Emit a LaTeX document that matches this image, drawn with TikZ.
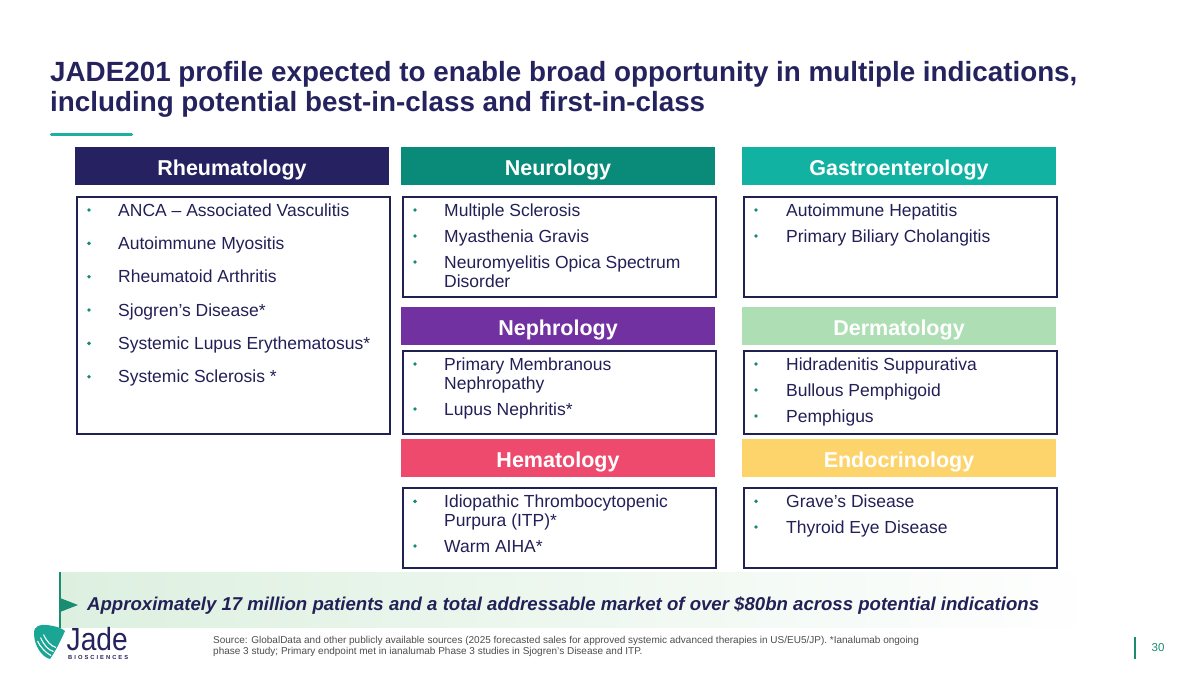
\documentclass[tikz,border=0pt]{standalone}
\usepackage{fontspec}
\setmainfont{Liberation Sans}
\definecolor{navy}{HTML}{25235E}
\definecolor{boxline}{HTML}{1E2152}
\definecolor{txt}{HTML}{222057}
\definecolor{tealline}{HTML}{1BB0A0}
\definecolor{bulc}{HTML}{168A78}
\definecolor{cRheum}{HTML}{262262}
\definecolor{cNeuro}{HTML}{0A8A79}
\definecolor{cGastro}{HTML}{12B2A3}
\definecolor{cNeph}{HTML}{7131A1}
\definecolor{cDerm}{HTML}{AEDFB4}
\definecolor{cHema}{HTML}{EE4A6E}
\definecolor{cEndo}{HTML}{FDD46C}
\definecolor{bannerg}{HTML}{DDF0E0}
\definecolor{foot}{HTML}{4D4D4D}
\definecolor{pgteal}{HTML}{1A8C72}
\definecolor{icon}{HTML}{1AA594}
\tikzset{
  hdrtext/.style={font=\fontsize{21.5}{24}\selectfont\bfseries, text=white, anchor=base, inner sep=0pt},
  cbox/.style={draw=boxline, line width=2pt, anchor=north west, inner sep=0pt},
  hbox/.style={anchor=north west, inner sep=0pt, minimum width=314pt, minimum height=38pt},
  itm/.style={anchor=base west, font=\fontsize{17.5}{19.5}\selectfont, text=txt, inner sep=0pt},
  bulstyle/.style={circle, fill=bulc, inner sep=0pt, minimum size=3.9pt},
}
\newcommand{\hdrbox}[5]{% name, x, y, color, text
  \node[hbox, fill=#4] (#1) at (#2,#3) {};
  \node[hdrtext] (#1-t) at (#2+157,#3+28.5) {#5};}
\newcommand{\bitem}[5]{% name, bx, tx, y, text
  \node[bulstyle] (#1-b) at (#2,#4-6) {};
  \node[itm] (#1) at (#3,#4) {#5};}
\newcommand{\citem}[4]{% name, tx, y, text (continuation line)
  \node[itm] (#1) at (#2,#3) {#4};}
\begin{document}
\begin{tikzpicture}[x=1pt,y=-1pt]
\useasboundingbox (0,0) rectangle (1200,675);
\fill[white] (0,0) rectangle (1200,675);

% title
\node[anchor=base west, inner sep=0pt, font=\fontsize{27.8}{30}\selectfont\bfseries, text=navy] (t1) at (50,81.7) {JADE201 profile expected to enable broad opportunity in multiple indications,};
\node[anchor=base west, inner sep=0pt, font=\fontsize{27.8}{30}\selectfont\bfseries, text=navy] (t2) at (50,111) {including potential best-in-class and first-in-class};
\draw[tealline, line width=3.5pt, line cap=round] (51.5,134.3) -- (131.5,134.3);

% headers
\hdrbox{rh}{75}{147}{cRheum}{Rheumatology}
\hdrbox{ne}{401}{147}{cNeuro}{Neurology}
\hdrbox{ga}{742}{147}{cGastro}{Gastroenterology}
\hdrbox{np}{401}{306.5}{cNeph}{Nephrology}
\hdrbox{de}{742}{306.5}{cDerm}{Dermatology}
\hdrbox{he}{401}{439}{cHema}{Hematology}
\hdrbox{en}{742}{439}{cEndo}{Endocrinology}

% content boxes
\node[cbox, minimum width=313pt, minimum height=237pt] (rhc) at (75.5,196) {};
\node[cbox, minimum width=313pt, minimum height=99.5pt] (nec) at (401.5,196) {};
\node[cbox, minimum width=313pt, minimum height=99.5pt] (gac) at (742.5,196) {};
\node[cbox, minimum width=313pt, minimum height=82.5pt] (npc) at (401.5,350) {};
\node[cbox, minimum width=313pt, minimum height=82.5pt] (dec) at (742.5,350) {};
\node[cbox, minimum width=313pt, minimum height=80pt] (hec) at (401.5,487.3) {};
\node[cbox, minimum width=313pt, minimum height=80pt] (enc) at (742.5,487.3) {};

% Rheumatology items
\bitem{r1}{89}{118}{216}{ANCA – Associated Vasculitis}
\bitem{r2}{89}{118}{249.3}{Autoimmune Myositis}
\bitem{r3}{89}{118}{282.7}{Rheumatoid Arthritis}
\bitem{r4}{89}{118}{316}{Sjogren’s Disease*}
\bitem{r5}{89}{118}{349.3}{Systemic Lupus Erythematosus*}
\bitem{r6}{89}{118}{382.7}{Systemic Sclerosis *}

% Neurology items
\bitem{n1}{415}{444}{216}{Multiple Sclerosis}
\bitem{n2}{415}{444}{242}{Myasthenia Gravis}
\bitem{n3}{415}{444}{268}{Neuromyelitis Opica Spectrum}
\citem{n3b}{444}{287}{Disorder}

% Gastro items
\bitem{g1}{756}{786}{216}{Autoimmune Hepatitis}
\bitem{g2}{756}{786}{242}{Primary Biliary Cholangitis}

% Nephrology items
\bitem{p1}{415}{444}{370}{Primary Membranous}
\citem{p1b}{444}{389}{Nephropathy}
\bitem{p2}{415}{444}{415}{Lupus Nephritis*}

% Dermatology items
\bitem{d1}{756}{786}{370}{Hidradenitis Suppurativa}
\bitem{d2}{756}{786}{396}{Bullous Pemphigoid}
\bitem{d3}{756}{786}{422}{Pemphigus}

% Hematology items
\bitem{h1}{415}{444}{507.3}{Idiopathic Thrombocytopenic}
\citem{h1b}{444}{526}{Purpura (ITP)*}
\bitem{h2}{415}{444}{552}{Warm AIHA*}

% Endocrinology items
\bitem{e1}{756}{786}{507.3}{Grave’s Disease}
\bitem{e2}{756}{786}{533}{Thyroid Eye Disease}

% banner
\shade[left color=bannerg, right color=white] (60,572) rectangle (1110,627);
\draw[pgteal, line width=2pt] (60,572) -- (60,628);
\fill[pgteal] (60,598) -- (78,605) -- (60,612) -- cycle;
\node[anchor=base west, inner sep=0pt, font=\fontsize{18.6}{20}\selectfont\bfseries\itshape, text=txt] (ban) at (87,610.5) {Approximately 17 million patients and a total addressable market of over \$80bn across potential indications};

% footnote
\node[anchor=base west, inner sep=0pt, font=\fontsize{10}{11}\selectfont, text=foot] (f1) at (213,643.3) {Source: GlobalData and other publicly available sources (2025 forecasted sales for approved systemic advanced therapies in US/EU5/JP). *Ianalumab ongoing};
\node[anchor=base west, inner sep=0pt, font=\fontsize{10}{11}\selectfont, text=foot] (f2) at (213,654) {phase 3 study; Primary endpoint met in ianalumab Phase 3 studies in Sjogren’s Disease and ITP.};

% page number
\draw[pgteal, line width=2.5pt] (1135,637) -- (1135,658.5);
\node[anchor=base, inner sep=0pt, font=\fontsize{11.5}{13}\selectfont, text=pgteal] (pg) at (1158,651.7) {30};

% logo
\fill[icon] (34,633) .. controls (34,626) and (40,624) .. (47,625) .. controls (55,626) and (62,628) .. (65,631) .. controls (60,642) and (55,652) .. (50,659) .. controls (42,657) and (34,646) .. cycle;
\draw[white, line width=1.1pt] (37.5,641) .. controls (41,648) and (46,653) .. (51,655.5);
\draw[white, line width=1.1pt] (40.5,637.5) .. controls (44,645) and (48,650) .. (53.5,651.5);
\draw[white, line width=1.1pt] (43.5,634.5) .. controls (47,642) and (51,646) .. (56,647.5);
\node[anchor=base west, inner sep=0pt, font=\fontsize{32}{34}\selectfont, text=navy] (jade) at (66.5,650) {\scalebox{0.88}[1]{Jade}};
\node[anchor=base west, inner sep=0pt, font=\fontsize{5.8}{6}\selectfont\bfseries, text=navy] (bio) at (68,659) {\makebox[60pt][s]{B\hfill I\hfill O\hfill S\hfill C\hfill I\hfill E\hfill N\hfill C\hfill E\hfill S}};
\end{tikzpicture}
\end{document}
